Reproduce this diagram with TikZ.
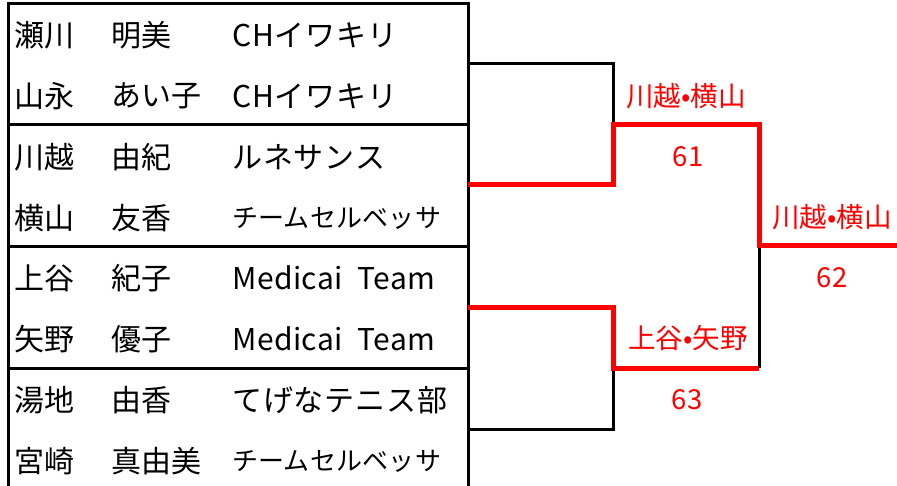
\documentclass[tikz,border=0pt]{standalone}
\usepackage{fontspec}
\setmainfont{Noto Sans CJK JP}
\begin{document}
\begin{tikzpicture}[x=1pt,y=-1pt,
  cell/.style={anchor=west,inner sep=0pt,font=\fontsize{30}{32}\selectfont},
  team/.style={anchor=west,inner sep=0pt,font=\fontsize{30}{32}\selectfont\addfontfeature{LetterSpace=3}},
  latin/.style={anchor=west,inner sep=0pt,font=\fontsize{30}{32}\selectfont\addfontfeature{LetterSpace=1.5}},
  small/.style={anchor=west,inner sep=0pt,font=\fontsize{26}{28}\selectfont\addfontfeature{LetterSpace=1}},
  win/.style={inner sep=0pt,text=red,font=\fontsize{27.5}{29}\selectfont},
  frame/.style={line width=3pt,black},
  lose/.style={line width=3pt,black},
  winline/.style={line width=5pt,red}]
\useasboundingbox (0,0) rectangle (897,486);
% table frame
\coordinate (tl) at (8,4);
\coordinate (tr) at (468,4);
\coordinate (bl) at (8,490);
\coordinate (br) at (468,490);
\draw[frame] (bl) -- (tl) -- (tr) -- (br);
\coordinate (s1l) at (8,125); \coordinate (s1r) at (468,125);
\coordinate (s2l) at (8,247); \coordinate (s2r) at (468,247);
\coordinate (s3l) at (8,368); \coordinate (s3r) at (468,368);
\draw[frame] (s1l) -- (s1r);
\draw[frame] (s2l) -- (s2r);
\draw[frame] (s3l) -- (s3r);
% rows
\node[cell] (a1) at (14,35) {瀬川};
\node[cell] (b1) at (111,35) {明美};
\node[team] (c1) at (232,35) {CHイワキリ};
\node[cell] (a2) at (14,96) {山永};
\node[cell] (b2) at (111,96) {あい子};
\node[team] (c2) at (232,96) {CHイワキリ};
\node[cell] (a3) at (14,157) {川越};
\node[cell] (b3) at (111,157) {由紀};
\node[team] (c3) at (232,157) {ルネサンス};
\node[cell] (a4) at (14,218) {横山};
\node[cell] (b4) at (111,218) {友香};
\node[small] (c4) at (232,218) {チームセルベッサ};
\node[cell] (a5) at (14,278) {上谷};
\node[cell] (b5) at (111,278) {紀子};
\node[latin] (c5) at (232,278) {Medicai\ \ Team};
\node[cell] (a6) at (14,339) {矢野};
\node[cell] (b6) at (111,339) {優子};
\node[latin] (c6) at (232,339) {Medicai\ \ Team};
\node[cell] (a7) at (14,400) {湯地};
\node[cell] (b7) at (111,400) {由香};
\node[team] (c7) at (232,400) {てげなテニス部};
\node[cell] (a8) at (14,461) {宮崎};
\node[cell] (b8) at (111,461) {真由美};
\node[small] (c8) at (232,461) {チームセルベッサ};
% bracket points
\coordinate (e1) at (468,64);
\coordinate (e2) at (468,185);
\coordinate (e3) at (468,308);
\coordinate (e4) at (468,429);
\coordinate (m1a) at (613,64);
\coordinate (m1b) at (613,185);
\coordinate (m1w) at (613,125);
\coordinate (m2a) at (613,308);
\coordinate (m2b) at (613,429);
\coordinate (m2w) at (613,368);
\coordinate (fa) at (759,125);
\coordinate (fb) at (759,368);
\coordinate (fw) at (759,246);
\coordinate (out) at (897,246);
% losing lines
\draw[lose] (e1) -- (m1a) -- (m1b);
\draw[lose] (e4) -- (m2b) -- (m2w);
\draw[lose] (fb) -- (fw);
% winning lines
\draw[winline,line join=miter] (e2) -- (m1b) -- (m1w) -- (fa) -- (fw) -- (out);
\draw[winline,line join=miter] (e3) -- (m2a) -- (m2w) -- (fb);
% labels
\node[win] (w1) at (686,96) {川越•横山};
\node[win] (n1) at (688,157) {61};
\node[win] (w2) at (832,217) {川越•横山};
\node[win] (n2) at (832,278) {62};
\node[win] (w3) at (688,338) {上谷•矢野};
\node[win] (n3) at (687,400) {63};
\end{tikzpicture}
\end{document}
